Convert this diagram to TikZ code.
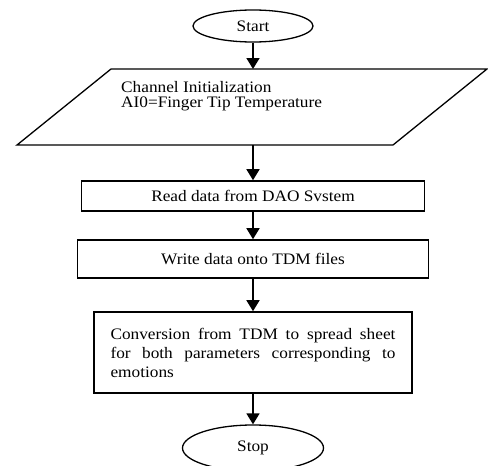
\documentclass[tikz,border=0pt]{standalone}
\usepackage{fontspec}
\setmainfont{Liberation Serif}[FakeStretch=1.08]
\usetikzlibrary{arrows.meta,shapes.geometric}
\begin{document}
\begin{tikzpicture}[x=1pt,y=-1pt,
  txt/.style={inner sep=0pt,font=\fontsize{16}{19}\selectfont},
  procbox/.style={draw,line width=1.6pt,inner sep=0pt,font=\fontsize{16}{19}\selectfont},
  terminal/.style={draw,ellipse,line width=1.3pt,inner sep=0pt,font=\fontsize{16}{19}\selectfont},
  shapeline/.style={draw,line width=1.3pt,line join=miter},
  flow/.style={-{Triangle[width=13pt,length=11pt]},line width=1.6pt}
]
\useasboundingbox (0,0) rectangle (488,466);
\fill[white] (0,0) rectangle (488,466);

\node[terminal,minimum width=120pt,minimum height=32pt] (start) at (253,26) {Start};

\draw[shapeline] (111,69) -- (487,69) -- (393,145) -- (17,145) -- cycle;
\coordinate (pTop) at (253,69);
\coordinate (pBot) at (253,145);
\node[txt,anchor=north west,align=left,font=\fontsize{16}{15}\selectfont] (init) at (121,81)
  {Channel Initialization\\AI0=Finger Tip Temperature};

\node[procbox,minimum width=343pt,minimum height=30pt] (read) at (253,196) {Read data from DAO Svstem};
\node[procbox,minimum width=351pt,minimum height=38pt] (write) at (253,259) {Write data onto TDM files};
\node[procbox,minimum width=318pt,minimum height=81pt,text width=285pt,align=justify,inner xsep=16.5pt] (conv) at (253,352.5)
  {\hyphenpenalty=10000 Conversion from TDM to spread sheet\linebreak for both parameters corresponding to\linebreak emotions};

\node[terminal,minimum width=141pt,minimum height=46pt] (stop) at (253,448) {Stop};

\draw[flow] (start.south) -- (pTop);
\draw[flow] (pBot) -- (read.north);
\draw[flow] (read.south) -- (write.north);
\draw[flow] (write.south) -- (conv.north);
\draw[flow] (conv.south) -- (stop.north);
\end{tikzpicture}
\end{document}
